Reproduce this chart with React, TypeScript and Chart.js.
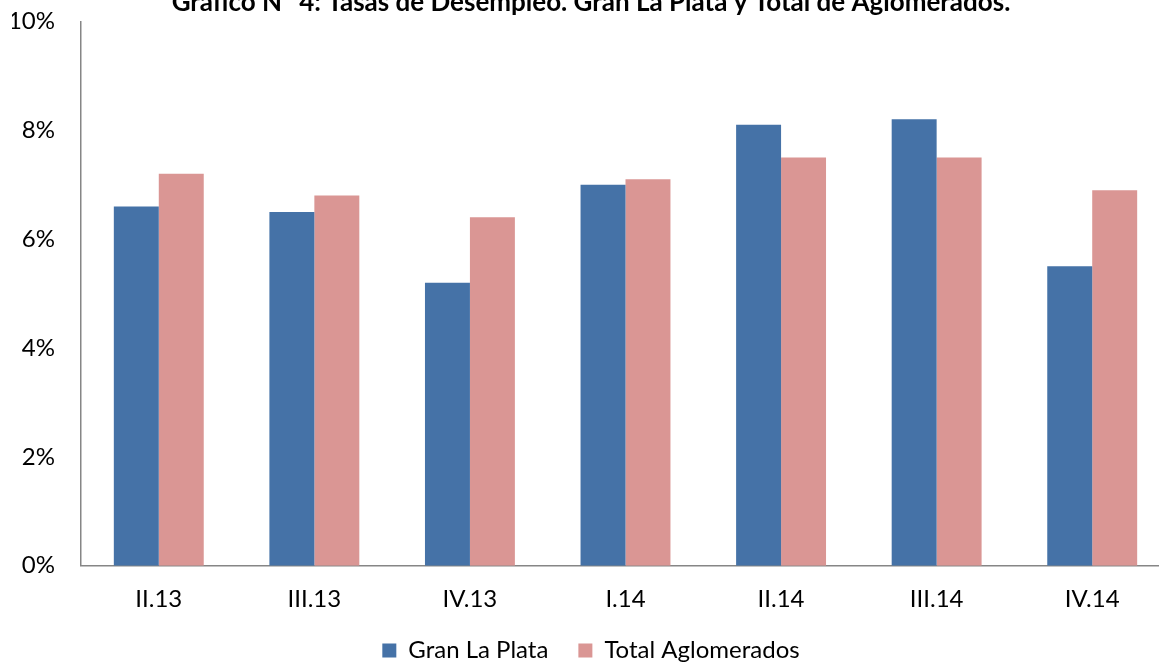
import React, { useEffect, useRef } from "react";
import { Chart, registerables } from "chart.js";

Chart.register(...registerables);

const categories = ["II.13", "III.13", "IV.13", "I.14", "II.14", "III.14", "IV.14"];
const granLaPlata = [0.066, 0.065, 0.052, 0.07, 0.081, 0.082, 0.055];
const totalAglomerados = [0.072, 0.068, 0.064, 0.071, 0.075, 0.075, 0.069];
const yTicks = [0, 0.02, 0.04, 0.06, 0.08, 0.1];
const titleText = "Gráfico N° 4: Tasas de Desempleo. Gran La Plata y Total de Aglomerados.";
const seriesNames = ["Gran La Plata", "Total Aglomerados"];

const FONT = "Lato";

export default function App() {
  const ref = useRef<HTMLCanvasElement | null>(null);

  useEffect(() => {
    if (!ref.current) return;
    const chart = new Chart(ref.current, {
      type: "bar",
      data: {
        labels: categories,
        datasets: [
          {
            label: seriesNames[0],
            data: granLaPlata,
            backgroundColor: "#4572A7",
            borderWidth: 0,
            categoryPercentage: 0.578,
            barPercentage: 1,
          },
          {
            label: seriesNames[1],
            data: totalAglomerados,
            backgroundColor: "#DA9694",
            borderWidth: 0,
            categoryPercentage: 0.578,
            barPercentage: 1,
          },
        ],
      },
      options: {
        animation: false,
        responsive: true,
        maintainAspectRatio: false,
        layout: { padding: { top: 0, left: 0, right: 0, bottom: 8.5 } },
        plugins: {
          tooltip: { enabled: false },
          title: {
            display: true,
            text: titleText,
            color: "#000",
            font: { family: FONT, size: 26, weight: "bold" },
            padding: { top: 0, bottom: 3.5 },
          },
          legend: {
            display: true,
            position: "bottom",
            labels: {
              color: "#000",
              font: { family: FONT, size: 24 },
              boxWidth: 14,
              boxHeight: 14,
              padding: 30,
            },
          },
        },
        scales: {
          x: {
            grid: { display: false, drawTicks: false },
            border: { display: true, color: "#868686", width: 1.5 },
            ticks: {
              color: "#000",
              font: { family: FONT, size: 24 },
              padding: 19,
            },
            afterFit: (scale: any) => {
              scale.height = scale.height - 24;
            },
          },
          y: {
            min: 0,
            max: 0.1,
            afterBuildTicks: (scale: any) => {
              scale.ticks = yTicks.map((v) => ({ value: v }));
            },
            afterFit: (scale: any) => {
              scale.width = 69;
            },
            grid: { display: false, drawTicks: false },
            border: { display: true, color: "#868686", width: 1.5 },
            ticks: {
              color: "#000",
              font: { family: FONT, size: 24 },
              padding: 26,
              callback: (v: any) => Math.round(Number(v) * 100) + "%",
            },
          },
        },
      },
    });
    return () => chart.destroy();
  }, []);

  return (
    <div
      style={{
        position: "fixed",
        left: 0,
        top: 0,
        width: 1159,
        height: 662,
        overflow: "hidden",
        background: "#fff",
      }}
    >
      <div
        style={{
          position: "absolute",
          left: 12,
          top: -19,
          width: 1158,
          height: 700,
        }}
      >
        <canvas ref={ref} />
      </div>
    </div>
  );
}
